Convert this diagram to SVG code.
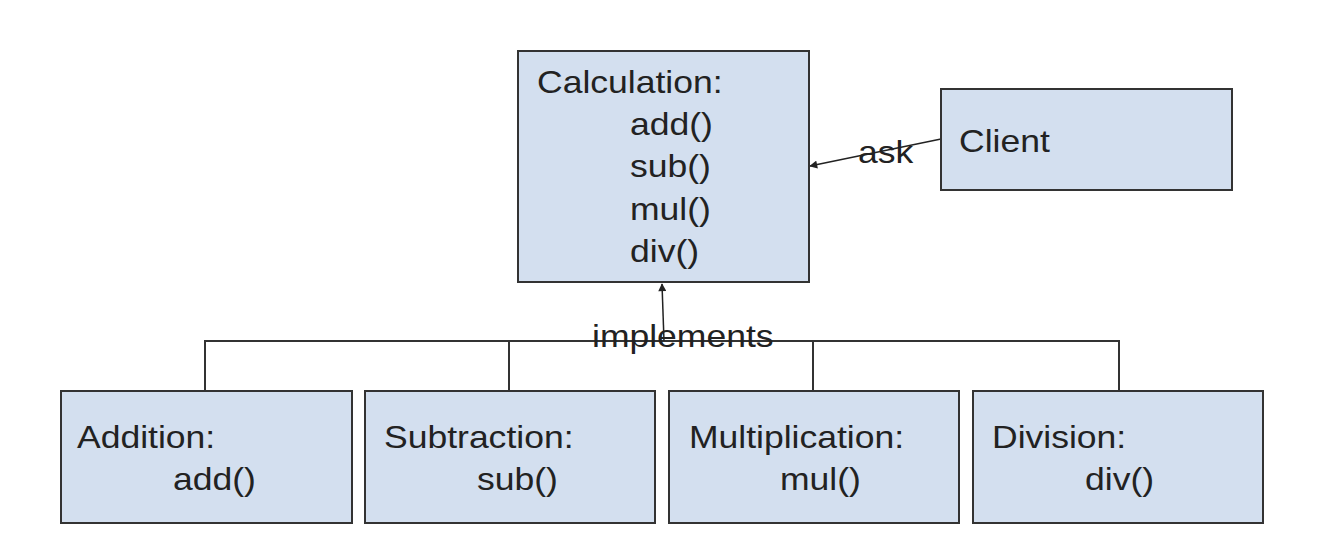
<svg xmlns="http://www.w3.org/2000/svg" width="1320" height="554" viewBox="0 0 1320 554">
<defs>
<style>
.box{fill:#d3dfef;stroke:#333;stroke-width:2}
.t{font-family:"Liberation Sans",Arial,sans-serif;font-size:32px;fill:#222}
.elbow{fill:none;stroke:#333;stroke-width:2}
.conn{fill:none;stroke:#222;stroke-width:1.5}
</style>
<marker id="ah" viewBox="0 0 10 10" refX="9" refY="5" markerWidth="10" markerHeight="8" markerUnits="userSpaceOnUse" orient="auto">
<path d="M0,0 L10,5 L0,10 Z" fill="#222"/>
</marker>
</defs>
<rect width="1320" height="554" fill="#fff"/>
<g id="connectors">
<path class="elbow" d="M205,391 V341 H1119 V391 M509,341 V391 M813,341 V391"/>
<line class="conn" x1="664" y1="341" x2="662" y2="284" marker-end="url(#ah)"/>
<line class="conn" x1="941" y1="139" x2="810" y2="166" marker-end="url(#ah)"/>
<text class="t" transform="translate(592 347) scale(1.11 1)">implements</text>
<text class="t" transform="translate(858 163) scale(1.11 1)">ask</text>
</g>
<g id="calculation">
<rect class="box" x="518" y="51" width="291" height="231"/>
<text class="t" transform="translate(537 93) scale(1.11 1)">Calculation:</text>
<text class="t" transform="translate(630 135) scale(1.11 1)">add()</text>
<text class="t" transform="translate(630 177) scale(1.11 1)">sub()</text>
<text class="t" transform="translate(630 220) scale(1.11 1)">mul()</text>
<text class="t" transform="translate(630 262) scale(1.11 1)">div()</text>
</g>
<g id="client">
<rect class="box" x="941" y="89" width="291" height="101"/>
<text class="t" transform="translate(959 152) scale(1.11 1)">Client</text>
</g>
<g id="addition">
<rect class="box" x="61" y="391" width="291" height="132"/>
<text class="t" transform="translate(77 448) scale(1.11 1)">Addition:</text>
<text class="t" transform="translate(173 490) scale(1.11 1)">add()</text>
</g>
<g id="subtraction">
<rect class="box" x="365" y="391" width="290" height="132"/>
<text class="t" transform="translate(384 448) scale(1.11 1)">Subtraction:</text>
<text class="t" transform="translate(477 490) scale(1.11 1)">sub()</text>
</g>
<g id="multiplication">
<rect class="box" x="669" y="391" width="290" height="132"/>
<text class="t" transform="translate(689 448) scale(1.11 1)">Multiplication:</text>
<text class="t" transform="translate(780 490) scale(1.11 1)">mul()</text>
</g>
<g id="division">
<rect class="box" x="973" y="391" width="290" height="132"/>
<text class="t" transform="translate(992 448) scale(1.11 1)">Division:</text>
<text class="t" transform="translate(1085 490) scale(1.11 1)">div()</text>
</g>
</svg>
